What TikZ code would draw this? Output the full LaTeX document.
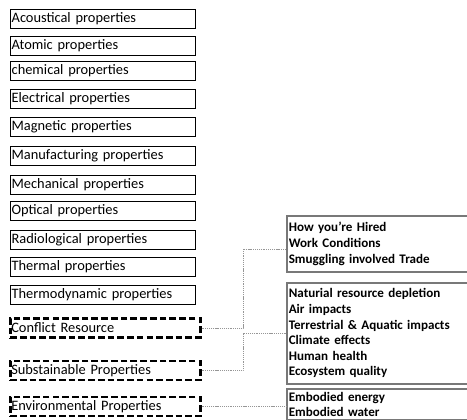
\documentclass[tikz,border=0pt]{standalone}
\usepackage{fontspec}
\setmainfont{Carlito}
\definecolor{rgray}{RGB}{120,120,120}
\definecolor{cgray}{RGB}{150,150,150}
\begin{document}
\begin{tikzpicture}[x=0.75pt,y=-0.75pt,
  lbox/.style={draw=black,line width=0.75pt,anchor=west,minimum width=138.75pt,minimum height=14.25pt,inner xsep=0.6pt,inner ysep=0pt,text width=137pt,align=left,font=\fontsize{10.8}{12}\selectfont},
  dbox/.style={draw=black,line width=1.9pt,dash pattern=on 5pt off 2.3pt,anchor=west,minimum width=142.5pt,minimum height=14.5pt,inner xsep=0.6pt,inner ysep=0pt,text width=141pt,align=left,font=\fontsize{10.8}{12}\selectfont},
  rbox/.style={draw=rgray,line width=1.2pt,anchor=north west,minimum width=150pt,inner xsep=1pt,inner ysep=0pt,text width=147pt,align=left,font=\fontsize{9.8}{11.7}\selectfont\bfseries},
  conn/.style={draw=cgray,line width=0.5pt,dash pattern=on 0.8pt off 0.6pt}]
\useasboundingbox (0,0) rectangle (467,419);
\clip (0,0) rectangle (467,419);
\node[lbox] (aco) at (10,18.5) {Acoustical properties};
\node[lbox] (ato) at (10,46) {Atomic properties};
\node[lbox] (che) at (10,70.5) {chemical properties};
\node[lbox] (ele) at (10,98.5) {Electrical properties};
\node[lbox] (mag) at (10,126.5) {Magnetic properties};
\node[lbox] (man) at (10,156) {Manufacturing properties};
\node[lbox] (mec) at (10,184.5) {Mechanical properties};
\node[lbox] (opt) at (10,210.5) {Optical properties};
\node[lbox] (rad) at (10,239.5) {Radiological properties};
\node[lbox] (the) at (10,266.5) {Thermal properties};
\node[lbox] (thd) at (10,295) {Thermodynamic properties};
\node[dbox] (con) at (9,328) {Conflict Resource};
\node[dbox] (sub) at (9,370.5) {Substainable Properties};
\node[dbox] (env) at (9,406.5) {Environmental Properties};
\node[rbox,minimum height=42pt] (r1) at (286,215) {How you’re Hired\\Work Conditions\\Smuggling involved Trade};
\node[rbox,minimum height=75.75pt] (r2) at (286,282) {Naturial resource depletion\\Air impacts\\Terrestrial \& Aquatic impacts\\Climate effects\\Human health\\Ecosystem quality};
\node[rbox,minimum height=23.5pt,font=\fontsize{9.8}{10.6}\selectfont\bfseries] (r3) at (286,388) {Embodied energy\\Embodied water};
\coordinate (j1) at (243,249);
\coordinate (j2) at (243,333);
\draw[conn] (con.east) -| (j1) -- (j1 -| r1.west);
\draw[conn] (sub.east) -| (j2) -- (j2 -| r2.west);
\draw[conn] (env.east) -- (env.east -| r3.west);
\end{tikzpicture}
\end{document}
